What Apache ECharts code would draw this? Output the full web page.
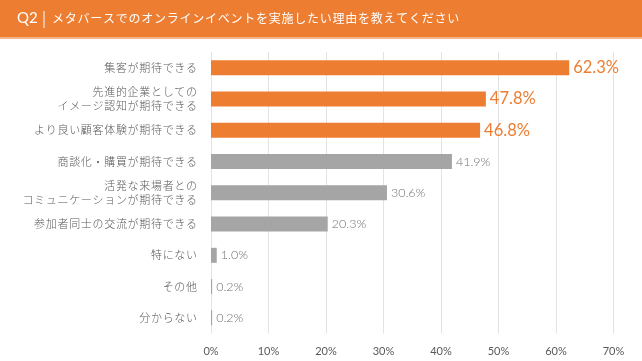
<!DOCTYPE html>
<html>
<head>
<meta charset="utf-8">
<script src="https://cdn.jsdelivr.net/npm/echarts@6/dist/echarts.min.js"></script>
<style>
html,body{margin:0;padding:0;background:#fff;}
#main{width:642px;height:361px;}
</style>
</head>
<body>
<div id="main"></div>
<script>
var titleQ = 'Q2';
var titleText = 'メタバースでのオンラインイベントを実施したい理由を教えてください';
var categories = [
  '集客が期待できる',
  '先進的企業としての\nイメージ認知が期待できる',
  'より良い顧客体験が期待できる',
  '商談化・購買が期待できる',
  '活発な来場者との\nコミュニケーションが期待できる',
  '参加者同士の交流が期待できる',
  '特にない',
  'その他',
  '分からない'
];
var values = [62.3, 47.8, 46.8, 41.9, 30.6, 20.3, 1.0, 0.2, 0.2];
var highlighted = [true, true, true, false, false, false, false, false, false];
var xTicks = [0, 10, 20, 30, 40, 50, 60, 70];

var ORANGE = '#ED7D31', GRAY = '#A5A5A5';
var jp = '"Noto Sans CJK JP", sans-serif';
var num = 'Lato, "Noto Sans", sans-serif';

function spaced(s){
  return s.split('\n').map(function(line){ return line.split('').join('\u200A'); }).join('\n');
}

var data = values.map(function(v, i){
  var h = highlighted[i];
  return {
    value: v,
    itemStyle: {color: h ? ORANGE : GRAY},
    label: h ? {color: ORANGE, fontSize: 16.5, fontFamily: num, fontWeight: 'normal'} : {color: '#707070', fontSize: 12.5, fontFamily: num, fontWeight: 300}
  };
});

var chart = echarts.init(document.getElementById('main'));
chart.setOption({
  animation: false,
  backgroundColor: '#fff',
  graphic: [
    {type: 'rect', shape: {x: 0, y: 0, width: 642, height: 37}, style: {fill: ORANGE}},
    {type: 'rect', shape: {x: 0, y: 37, width: 642, height: 2}, style: {fill: '#F6B48A'}},
    {type: 'text', left: 17, top: 11, style: {text: titleQ, fill: '#fff', font: '15px ' + num}},
    {type: 'rect', shape: {x: 43.5, y: 11, width: 1, height: 17}, style: {fill: '#fff'}},
    {type: 'text', left: 52, top: 12, style: {text: spaced(titleText), fill: '#fff', font: '12px ' + jp}}
  ],
  grid: {left: 211, right: 28.5, top: 52, bottom: 27.5, containLabel: false},
  xAxis: {
    type: 'value', min: xTicks[0], max: xTicks[xTicks.length-1], interval: 10,
    axisLine: {show: false}, axisTick: {show: false},
    splitLine: {lineStyle: {color: '#E3E3E3', width: 1}},
    axisLabel: {formatter: '{value}%', color: '#595959', fontSize: 11, fontFamily: num, margin: 12}
  },
  yAxis: {
    type: 'category', data: categories, inverse: true,
    axisLine: {show: false}, axisTick: {show: false},
    axisLabel: {color: '#595959', fontSize: 11, fontFamily: jp, fontWeight: 300, lineHeight: 14, margin: 14, align: 'right',
      formatter: function(v){ return spaced(v); }}
  },
  series: [{
    type: 'bar', data: data, barWidth: 15,
    label: {show: true, position: 'right', distance: 4, formatter: function(p){return p.value.toFixed(1) + '%';}}
  }]
});
</script>
</body>
</html>
